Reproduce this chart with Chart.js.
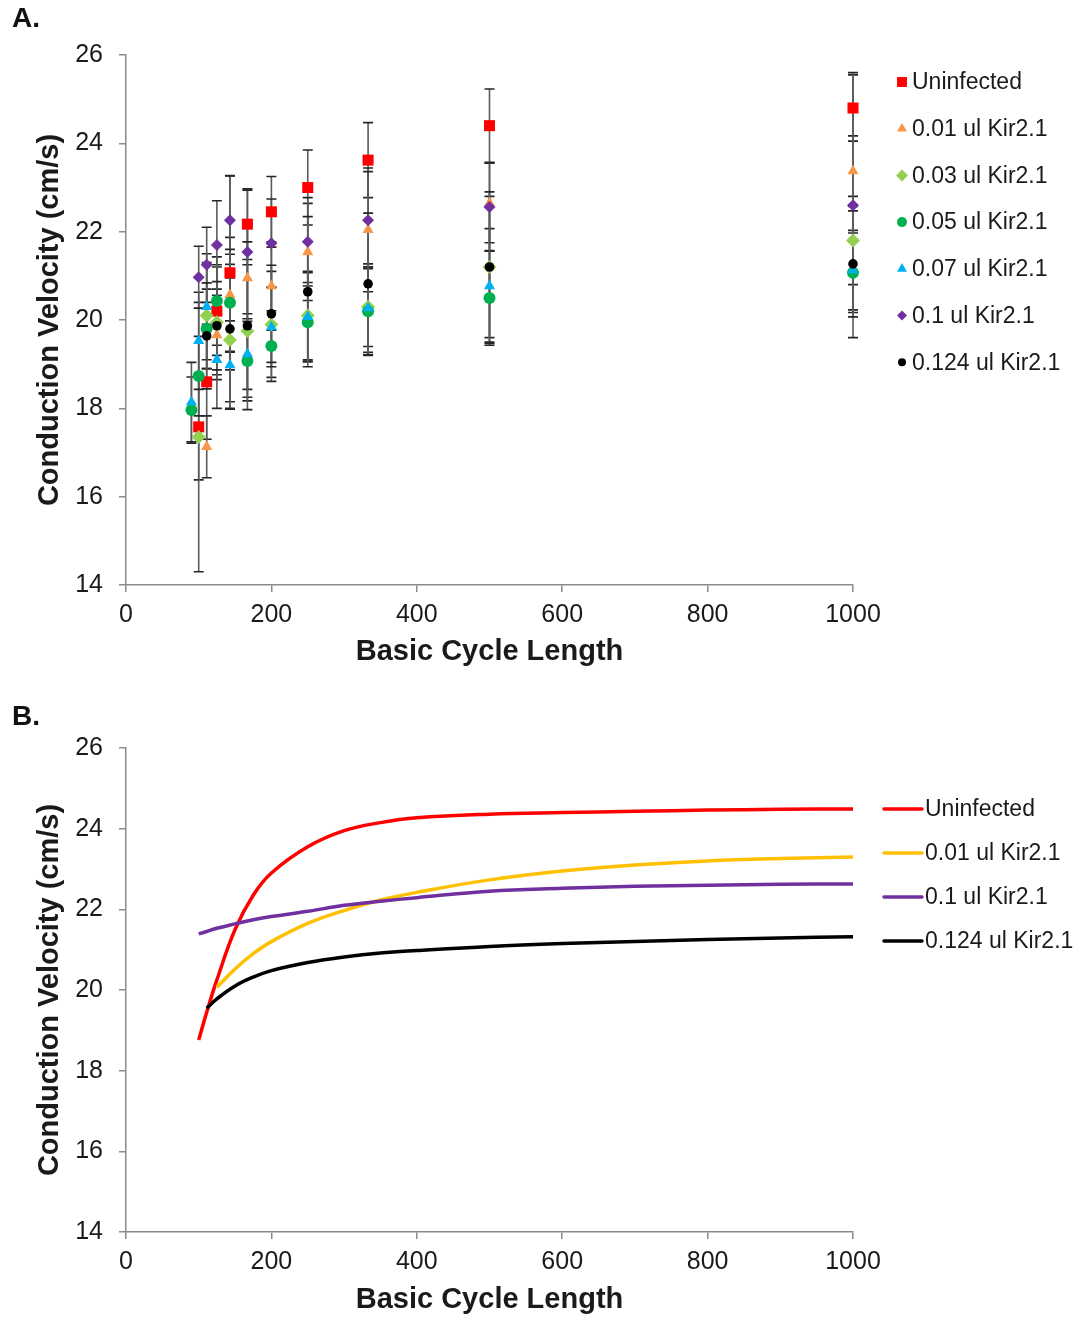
<!DOCTYPE html>
<html>
<head>
<meta charset="utf-8">
<script src="https://cdn.jsdelivr.net/npm/chart.js"></script>
<style>
  body { margin: 0; background: #fff; }
  #wrap { position: relative; width: 1084px; height: 1318px; }
  canvas { position: absolute; left: 0; }
  .tag { position: absolute; left: 12px; font: bold 28px "Liberation Sans", Arial, sans-serif; color: #111; }
</style>
</head>
<body>
<div id="wrap">
  <canvas id="chartA" width="1084" height="690" style="top:0"></canvas>
  <canvas id="chartB" width="1084" height="628" style="top:690px"></canvas>
  <div class="tag" style="top:2px">A.</div>
  <div class="tag" style="top:700px">B.</div>
</div>
<script>
// Panel A: measured conduction velocity (mean +/- error) per basic cycle length
const seriesNames = ['Uninfected', '0.01 ul Kir2.1', '0.03 ul Kir2.1', '0.05 ul Kir2.1',
                     '0.07 ul Kir2.1', '0.1 ul Kir2.1', '0.124 ul Kir2.1'];

const uninfectedBCL = [100, 111, 125, 143, 167, 200, 250, 333, 500, 1000];
const uninfectedCV  = [17.58, 18.6, 20.2, 21.07, 22.17, 22.45, 23.0, 23.62, 24.4, 24.8];
const uninfectedErr = [1.2, 1.3, 1.0, 2.2, 0.8, 0.8, 0.85, 0.85, 0.83, 0.75];

const kir001BCL = [111, 125, 143, 167, 200, 250, 333, 500, 1000];
const kir001CV  = [17.13, 19.66, 20.57, 20.95, 20.77, 21.54, 22.04, 22.65, 23.37];
const kir001Err = [0.7, 0.9, 1.3, 1.2, 1.0, 1.1, 1.4, 0.9, 0.8];

const kir003BCL = [100, 111, 125, 143, 167, 200, 250, 333, 500, 1000];
const kir003CV  = [17.35, 20.1, 19.95, 19.55, 19.75, 19.9, 20.1, 20.3, 21.2, 21.8];
const kir003Err = [3.05, 1.2, 1.3, 1.4, 1.5, 1.2, 1.0, 0.9, 1.6, 1.0];

const kir005BCL = [90, 100, 111, 125, 143, 167, 200, 250, 333, 500, 1000];
const kir005CV  = [17.96, 18.73, 19.8, 20.43, 20.39, 19.07, 19.41, 19.95, 20.2, 20.5, 21.07];
const kir005Err = [0.75, 0.9, 0.9, 1.0, 1.1, 0.9, 0.8, 0.9, 1.0, 1.07, 0.9];

const kir007BCL = [90, 100, 111, 125, 143, 167, 200, 250, 333, 500, 1000];
const kir007CV  = [18.14, 19.53, 20.3, 19.1, 18.98, 19.23, 19.84, 20.07, 20.27, 20.77, 21.13];
const kir007Err = [0.9, 1.1, 1.2, 1.1, 1.0, 0.8, 0.9, 1.0, 1.0, 1.3, 0.9];

const kir01BCL = [100, 111, 125, 143, 167, 200, 250, 333, 500, 1000];
const kir01CV  = [20.97, 21.25, 21.7, 22.26, 21.54, 21.74, 21.77, 22.26, 22.56, 22.6];
const kir01Err = [0.7, 0.85, 1.0, 1.0, 1.4, 1.0, 1.0, 1.1, 1.0, 3.0];

const kir0124BCL = [111, 125, 143, 167, 200, 250, 333, 500, 1000];
const kir0124CV  = [19.64, 19.87, 19.8, 19.87, 20.14, 20.64, 20.82, 21.2, 21.27];
const kir0124Err = [1.2, 1.0, 1.8, 1.9, 1.1, 1.7, 1.6, 1.7, 1.2];

// Panel B: fitted restitution curves
const fitNames = ['Uninfected', '0.01 ul Kir2.1', '0.1 ul Kir2.1', '0.124 ul Kir2.1'];
const fitBCL = [100, 111, 125, 150, 175, 200, 250, 300, 350, 400, 500, 600, 700, 800, 900, 1000];
const fitUninfected = [18.76, 19.45, 20.25, 21.5, 22.35, 22.9, 23.55, 23.95, 24.15, 24.27, 24.36, 24.4, 24.43, 24.46, 24.48, 24.49];
const fitKir001     = [null, null, 20.07, 20.52, 20.9, 21.2, 21.65, 21.97, 22.23, 22.42, 22.73, 22.95, 23.1, 23.2, 23.26, 23.3];
const fitKir01      = [21.39, 21.45, 21.53, 21.64, 21.74, 21.82, 21.95, 22.1, 22.2, 22.29, 22.45, 22.52, 22.57, 22.6, 22.62, 22.63];
const fitKir0124    = [null, 19.55, 19.78, 20.1, 20.32, 20.48, 20.68, 20.82, 20.92, 20.98, 21.08, 21.15, 21.2, 21.25, 21.29, 21.32];

const yTicks = [14, 16, 18, 20, 22, 24, 26];
const xTicks = [0, 200, 400, 600, 800, 1000];

const FONT = '"Liberation Sans", Arial, sans-serif';
const TEXT = '#1a1a1a';
const AXIS = '#8a8a8a';

function pts(xs, ys) {
  return xs.map((x, i) => ({ x: x, y: ys[i] }));
}

// vertical error bars with caps, drawn beneath the markers
const errorBars = {
  id: 'errorBars',
  beforeDatasetsDraw(chart) {
    const ctx = chart.ctx;
    const xs = chart.scales.x, ys = chart.scales.y;
    ctx.save();
    chart.data.datasets.forEach(ds => {
      if (!ds.errors) return;
      ds.data.forEach((p, i) => {
        const px = xs.getPixelForValue(p.x);
        const top = ys.getPixelForValue(p.y + ds.errors[i]);
        const bot = ys.getPixelForValue(p.y - ds.errors[i]);
        ctx.strokeStyle = '#5a5a5a';
        ctx.lineWidth = 1.6;
        ctx.beginPath();
        ctx.moveTo(px, top); ctx.lineTo(px, bot);
        ctx.stroke();
        ctx.strokeStyle = '#262626';
        ctx.beginPath();
        ctx.moveTo(px - 5, top); ctx.lineTo(px + 5, top);
        ctx.moveTo(px - 5, bot); ctx.lineTo(px + 5, bot);
        ctx.stroke();
      });
    });
    ctx.restore();
  }
};

// legend drawn beside the plot, like the spreadsheet original
const sideLegend = {
  id: 'sideLegend',
  afterDraw(chart, args, opts) {
    const ctx = chart.ctx;
    ctx.save();
    ctx.font = '23px ' + FONT;
    ctx.fillStyle = TEXT;
    ctx.textBaseline = 'middle';
    const list = chart.data.datasets.slice().sort((a, b) => a.legendIndex - b.legendIndex);
    list.forEach((ds, i) => {
      const y = opts.y + i * opts.dy;
      if (opts.lines) {
        ctx.strokeStyle = ds.borderColor;
        ctx.lineWidth = 3.5;
        ctx.lineCap = 'round';
        ctx.beginPath();
        ctx.moveTo(opts.x, y); ctx.lineTo(opts.x + 38, y);
        ctx.stroke();
        ctx.fillStyle = TEXT;
        ctx.fillText(ds.label, opts.x + 41, y + 1);
      } else {
        ctx.fillStyle = ds.backgroundColor;
        Chart.helpers.drawPoint(ctx, {
          pointStyle: ds.pointStyle, radius: ds.legendRadius, borderWidth: 0, rotation: 0
        }, opts.x, y);
        ctx.fillStyle = TEXT;
        ctx.fillText(ds.label, opts.x + 10, y + 1);
      }
    });
    ctx.restore();
  }
};

function axes(xTitlePad, yTitlePad, xHeight) {
  const grid = { display: true, drawOnChartArea: false, drawTicks: true, tickLength: 7, color: AXIS, lineWidth: 1.5 };
  const border = { color: AXIS, width: 1.5 };
  return {
    x: {
      type: 'linear', min: 0, max: 1000,
      afterBuildTicks: s => { s.ticks = xTicks.map(v => ({ value: v })); },
      afterFit: s => { s.height = xHeight; },
      grid: grid, border: border,
      ticks: { color: TEXT, font: { family: FONT, size: 25 }, padding: 8, maxRotation: 0,
               callback: v => String(v) },
      title: { display: true, text: 'Basic Cycle Length', color: TEXT,
               font: { family: FONT, size: 29, weight: 'bold' }, padding: { top: 0, bottom: xTitlePad } }
    },
    y: {
      type: 'linear', min: 14, max: 26,
      afterBuildTicks: s => { s.ticks = yTicks.map(v => ({ value: v })); },
      afterFit: s => { s.width = 126; },
      grid: grid, border: border,
      ticks: { color: TEXT, font: { family: FONT, size: 25 }, padding: 16, callback: v => String(v) },
      title: { display: true, text: 'Conduction Velocity (cm/s)', color: TEXT,
               font: { family: FONT, size: 29, weight: 'bold' }, padding: { top: yTitlePad, bottom: 0 } }
    }
  };
}

const markerSpec = [
  { name: seriesNames[0], xs: uninfectedBCL, ys: uninfectedCV, err: uninfectedErr, color: '#ff0000', style: 'rect', r: 7.8, lr: 7 },
  { name: seriesNames[1], xs: kir001BCL, ys: kir001CV, err: kir001Err, color: '#f79646', style: 'triangle', r: 6.4, lr: 5.8 },
  { name: seriesNames[2], xs: kir003BCL, ys: kir003CV, err: kir003Err, color: '#92d050', style: 'rectRot', r: 7, lr: 6 },
  { name: seriesNames[3], xs: kir005BCL, ys: kir005CV, err: kir005Err, color: '#00b050', style: 'circle', r: 6, lr: 5 },
  { name: seriesNames[4], xs: kir007BCL, ys: kir007CV, err: kir007Err, color: '#00b0f0', style: 'triangle', r: 6.4, lr: 5.8 },
  { name: seriesNames[5], xs: kir01BCL, ys: kir01CV, err: kir01Err, color: '#7030a0', style: 'rectRot', r: 6, lr: 5 },
  { name: seriesNames[6], xs: kir0124BCL, ys: kir0124CV, err: kir0124Err, color: '#000000', style: 'circle', r: 4.8, lr: 4 }
];

new Chart(document.getElementById('chartA'), {
  type: 'scatter',
  data: {
    datasets: markerSpec.map((s, i) => ({
      label: s.name,
      data: pts(s.xs, s.ys),
      errors: s.err,
      legendIndex: i,
      legendRadius: s.lr,
      order: markerSpec.length - i,
      clip: false,
      pointStyle: s.style,
      pointRadius: s.r,
      pointHoverRadius: s.r,
      pointBorderWidth: 0,
      backgroundColor: s.color,
      borderColor: s.color
    }))
  },
  options: {
    responsive: false,
    animation: false,
    layout: { padding: { top: 55, right: 231, bottom: 0, left: 0 } },
    plugins: {
      legend: { display: false },
      tooltip: { enabled: false },
      sideLegend: { x: 902, y: 82, dy: 46.7, lines: false }
    },
    scales: axes(21, 33, 105)
  },
  plugins: [errorBars, sideLegend]
});

const fitSpec = [
  { name: fitNames[0], ys: fitUninfected, color: '#ff0000' },
  { name: fitNames[1], ys: fitKir001, color: '#ffc000' },
  { name: fitNames[2], ys: fitKir01, color: '#7030a0' },
  { name: fitNames[3], ys: fitKir0124, color: '#000000' }
];

new Chart(document.getElementById('chartB'), {
  type: 'line',
  data: {
    datasets: fitSpec.map((s, i) => ({
      label: s.name,
      data: pts(fitBCL, s.ys).filter(p => p.y !== null),
      legendIndex: i,
      order: fitSpec.length - i,
      clip: false,
      borderColor: s.color,
      backgroundColor: s.color,
      borderWidth: 3.5,
      pointRadius: 0,
      tension: 0.4,
      fill: false
    }))
  },
  options: {
    responsive: false,
    animation: false,
    layout: { padding: { top: 58, right: 231, bottom: 0, left: 0 } },
    plugins: {
      legend: { display: false },
      tooltip: { enabled: false },
      sideLegend: { x: 884, y: 119, dy: 44, lines: true }
    },
    scales: axes(1, 33, 86)
  },
  plugins: [sideLegend]
});
</script>
</body>
</html>
